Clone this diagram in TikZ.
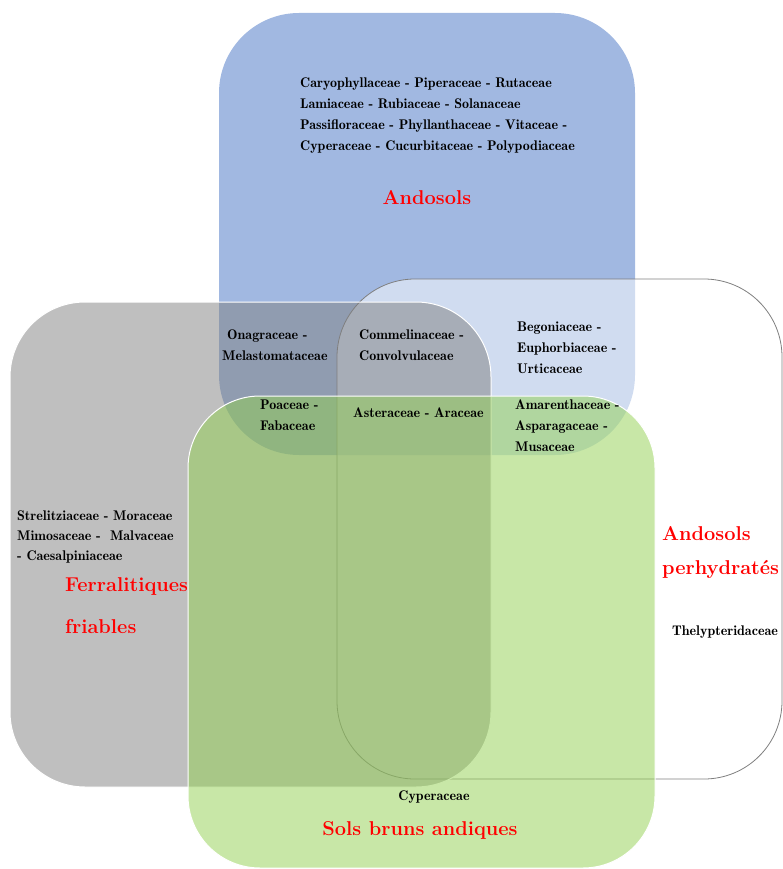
\documentclass[tikz,border=0pt]{standalone}
\usepackage{fontspec}
\newfontfamily\demifont{lmromandemi10-regular.otf}
\definecolor{blueA}{HTML}{4472C4}
\definecolor{grayA}{HTML}{808080}
\definecolor{greenA}{HTML}{92D050}
\definecolor{borderA}{HTML}{7F7F7F}
\begin{document}
\begin{tikzpicture}[x=1pt,y=-1pt,
  fam/.style={font=\demifont\fontsize{14}{21}\selectfont, align=left, inner sep=0pt, anchor=west, text=black},
  soil/.style={font=\fontsize{20}{42}\selectfont\bfseries, text=red, inner sep=0pt}]
\useasboundingbox (0,0) rectangle (783,869);
% Andosols (blue)
\path[fill=blueA, fill opacity=0.5, rounded corners=80pt] (219,13) rectangle (635,455);
% Andosols perhydrates (white, outlined)
\path[fill=white, fill opacity=0.5, draw=borderA, line width=0.8pt, rounded corners=78pt] (337,279) rectangle (782,779);
% Ferralitiques friables (gray)
\path[fill=grayA, fill opacity=0.5, draw=white, line width=1pt, rounded corners=75pt] (10,302) rectangle (491,787);
% Ferralitiques label, clipped at the green zone's left edge
\begin{scope}
\clip (0,0) rectangle (188,869);
\node[soil, align=left, anchor=west] (ferr) at (65,606) {Ferralitiques\\friables};
\end{scope}
% Sols bruns andiques (green)
\path[fill=greenA, fill opacity=0.5, draw=white, line width=1pt, rounded corners=72pt] (188,396) rectangle (655,868);

\node[fam] (top) at (300,115.5) {Caryophyllaceae - Piperaceae - Rutaceae\\Lamiaceae - Rubiaceae - Solanaceae\\Passifloraceae - Phyllanthaceae - Vitaceae -\\Cyperaceae - Cucurbitaceae - Polypodiaceae};
\node[soil] (andosols) at (427,198) {Andosols};
\node[fam] (onag) at (222,345.5) {\hspace*{5pt}Onagraceae -\\Melastomataceae};
\node[fam] (comm) at (359,345) {Commelinaceae -\\Convolvulaceae};
\node[fam] (bego) at (517,348) {Begoniaceae -\\Euphorbiaceae -\\Urticaceae};
\node[fam] (poac) at (260,415) {Poaceae -\\Fabaceae};
\node[fam] (aster) at (353,413) {Asteraceae - Araceae};
\node[fam] (amar) at (515,425.5) {Amarenthaceae -\\Asparagaceae -\\Musaceae};
\node[fam, font=\demifont\fontsize{14}{20}\selectfont] (strel) at (17,537) {Strelitziaceae - Moraceae\\Mimosaceae -\ \ Malvaceae\\- Caesalpiniaceae};
\node[soil, align=left, anchor=west, font=\fontsize{20}{34}\selectfont\bfseries] (perhy) at (662,552) {Andosols\\perhydratés};
\node[fam] (thely) at (672,632) {Thelypteridaceae};
\node[fam, anchor=center] (cyper) at (434,797) {Cyperaceae};
\node[soil] (sba) at (420,830) {Sols bruns andiques};
\end{tikzpicture}
\end{document}
